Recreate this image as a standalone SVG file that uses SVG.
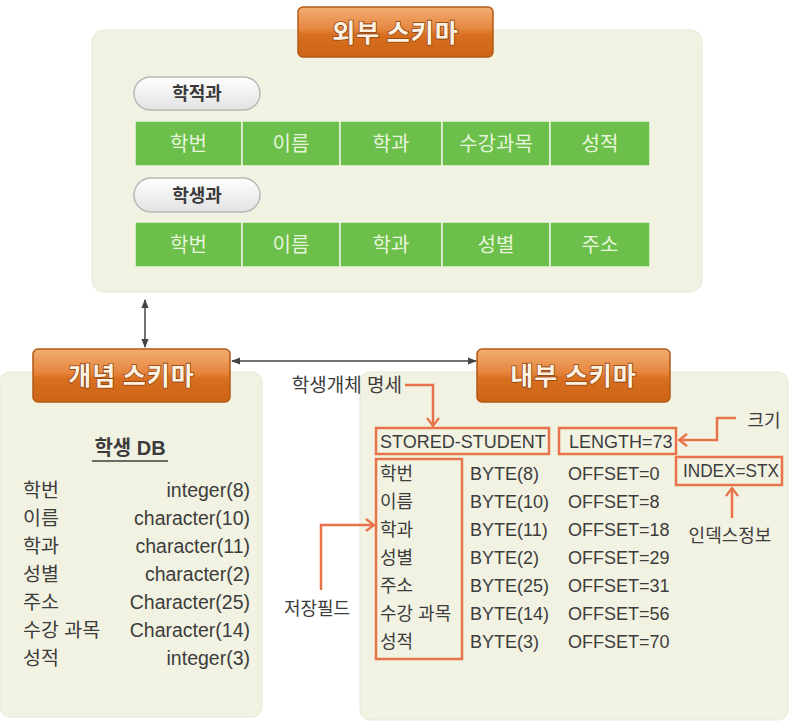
<svg xmlns="http://www.w3.org/2000/svg" width="796" height="725" viewBox="0 0 796 725">
<defs>
  <linearGradient id="og" x1="0" y1="0" x2="0" y2="1">
    <stop offset="0" stop-color="#f2ae72"/>
    <stop offset="0.45" stop-color="#e5853d"/>
    <stop offset="0.55" stop-color="#d96f20"/>
    <stop offset="1" stop-color="#cd6416"/>
  </linearGradient>
  <linearGradient id="pg" x1="0" y1="0" x2="0" y2="1">
    <stop offset="0" stop-color="#ffffff"/>
    <stop offset="1" stop-color="#e2e2e2"/>
  </linearGradient>
  <marker id="ah" viewBox="0 0 10 10" refX="9" refY="5" markerWidth="9" markerHeight="9" markerUnits="userSpaceOnUse" orient="auto-start-reverse">
    <path d="M0,1 L10,5 L0,9 z" fill="#444"/>
  </marker>
  <marker id="oc" viewBox="0 0 12 14" refX="10" refY="7" markerWidth="12" markerHeight="14" markerUnits="userSpaceOnUse" orient="auto">
    <path d="M2,1 L10,7 L2,13" fill="none" stroke="#e8734a" stroke-width="2.2"/>
  </marker>
  <style>
    .panel{fill:#f2f2e2;stroke:#e7e7d6;stroke-width:1}
    .btn{fill:url(#og);stroke:#b35a16;stroke-width:1.5}
    .btxt{font-family:"Noto Sans CJK KR",sans-serif;font-weight:bold;font-size:25px;fill:#fdf1e2;text-anchor:middle;stroke:#8e4410;stroke-width:1.6;paint-order:stroke;letter-spacing:1px}
    .pill{fill:url(#pg);stroke:#b8b8b8;stroke-width:1.5}
    .ptxt{font-family:"Noto Sans CJK KR",sans-serif;font-weight:bold;font-size:18px;fill:#3a3a3a;text-anchor:middle}
    .cell{fill:#6bbf4a;stroke:#eef5e4;stroke-width:1.5}
    .ctxt{font-family:"Noto Sans CJK KR",sans-serif;font-size:20px;fill:#e8f5dc;text-anchor:middle}
    .t{font-family:"Liberation Sans","Noto Sans CJK KR",sans-serif;font-size:18px;fill:#3c3c3c}
    .tl{font-family:"Liberation Sans","Noto Sans CJK KR",sans-serif;font-size:19.5px;fill:#3c3c3c}
    .r{text-anchor:end}
    .m{text-anchor:middle}
    .ob{fill:none;stroke:#e8734a;stroke-width:2.5}
    .con{fill:none;stroke:#444;stroke-width:1.5}
    .ocon{fill:none;stroke:#e8734a;stroke-width:2.5}
  </style>
</defs>
<rect width="796" height="725" fill="#ffffff"/>

<g id="external-schema">
  <rect class="panel" x="92" y="30" width="610" height="262" rx="12"/>
  <rect class="btn" x="298" y="7" width="195" height="50" rx="5"/>
  <text class="btxt" x="395.5" y="42">외부 스키마</text>
  <g id="view-hakjeokgwa">
    <rect class="pill" x="134" y="77" width="126" height="33" rx="16.5"/>
    <text class="ptxt" x="197" y="100">학적과</text>
    <rect class="cell" x="135" y="121" width="107" height="45"/>
    <rect class="cell" x="242" y="121" width="98" height="45"/>
    <rect class="cell" x="340" y="121" width="102" height="45"/>
    <rect class="cell" x="442" y="121" width="108" height="45"/>
    <rect class="cell" x="550" y="121" width="100" height="45"/>
    <text class="ctxt" x="188.5" y="151">학번</text>
    <text class="ctxt" x="291" y="151">이름</text>
    <text class="ctxt" x="391" y="151">학과</text>
    <text class="ctxt" x="496" y="151">수강과목</text>
    <text class="ctxt" x="600" y="151">성적</text>
  </g>
  <g id="view-haksaenggwa">
    <rect class="pill" x="134" y="178" width="126" height="34" rx="17"/>
    <text class="ptxt" x="197" y="202">학생과</text>
    <rect class="cell" x="135" y="222" width="107" height="45"/>
    <rect class="cell" x="242" y="222" width="98" height="45"/>
    <rect class="cell" x="340" y="222" width="102" height="45"/>
    <rect class="cell" x="442" y="222" width="108" height="45"/>
    <rect class="cell" x="550" y="222" width="100" height="45"/>
    <text class="ctxt" x="188.5" y="252">학번</text>
    <text class="ctxt" x="291" y="252">이름</text>
    <text class="ctxt" x="391" y="252">학과</text>
    <text class="ctxt" x="496" y="252">성별</text>
    <text class="ctxt" x="600" y="252">주소</text>
  </g>
</g>

<g id="conceptual-schema">
  <rect class="panel" x="0" y="372" width="262" height="345" rx="10"/>
  <rect class="btn" x="33" y="349" width="197" height="53" rx="5"/>
  <text class="btxt" x="131.5" y="385">개념 스키마</text>
  <text class="tl m" x="130" y="455" style="font-size:20px;font-weight:bold">학생 DB</text>
  <line x1="92" y1="461" x2="168" y2="461" stroke="#3c3c3c" stroke-width="1.5"/>
  <text class="tl" x="23" y="497">학번</text>
  <text class="tl" x="23" y="525">이름</text>
  <text class="tl" x="23" y="553">학과</text>
  <text class="tl" x="23" y="581">성별</text>
  <text class="tl" x="23" y="609">주소</text>
  <text class="tl" x="23" y="637">수강 과목</text>
  <text class="tl" x="23" y="665">성적</text>
  <text class="tl r" x="250" y="497">integer(8)</text>
  <text class="tl r" x="250" y="525">character(10)</text>
  <text class="tl r" x="250" y="553">character(11)</text>
  <text class="tl r" x="250" y="581">character(2)</text>
  <text class="tl r" x="250" y="609">Character(25)</text>
  <text class="tl r" x="250" y="637">Character(14)</text>
  <text class="tl r" x="250" y="665">integer(3)</text>
</g>

<g id="internal-schema">
  <rect class="panel" x="360" y="372" width="428" height="348" rx="10"/>
  <rect class="btn" x="477" y="349" width="193" height="53" rx="5"/>
  <text class="btxt" x="573.5" y="385">내부 스키마</text>
  <rect class="ob" x="376" y="428" width="173" height="26"/>
  <rect class="ob" x="559" y="428" width="117" height="26"/>
  <rect class="ob" x="676" y="457" width="106" height="28"/>
  <rect class="ob" x="376" y="459" width="86" height="200"/>
  <text class="t" x="380" y="448">STORED-STUDENT</text>
  <text class="t" x="569" y="448">LENGTH=73</text>
  <text class="t" x="683" y="477" textLength="96" lengthAdjust="spacingAndGlyphs">INDEX=STX</text>
  <text class="t" x="380" y="480">학번</text>
  <text class="t" x="380" y="508">이름</text>
  <text class="t" x="380" y="536">학과</text>
  <text class="t" x="380" y="564">성별</text>
  <text class="t" x="380" y="592">주소</text>
  <text class="t" x="380" y="620">수강 과목</text>
  <text class="t" x="380" y="648">성적</text>
  <text class="t" x="470" y="480">BYTE(8)</text>
  <text class="t" x="470" y="508">BYTE(10)</text>
  <text class="t" x="470" y="536">BYTE(11)</text>
  <text class="t" x="470" y="564">BYTE(2)</text>
  <text class="t" x="470" y="592">BYTE(25)</text>
  <text class="t" x="470" y="620">BYTE(14)</text>
  <text class="t" x="470" y="648">BYTE(3)</text>
  <text class="t" x="568" y="480">OFFSET=0</text>
  <text class="t" x="568" y="508">OFFSET=8</text>
  <text class="t" x="568" y="536">OFFSET=18</text>
  <text class="t" x="568" y="564">OFFSET=29</text>
  <text class="t" x="568" y="592">OFFSET=31</text>
  <text class="t" x="568" y="620">OFFSET=56</text>
  <text class="t" x="568" y="648">OFFSET=70</text>
</g>

<g id="annotations">
  <text class="t r" x="402" y="392" style="font-size:19px">학생개체 명세</text>
  <text class="t m" x="317" y="615">저장필드</text>
  <text class="t m" x="764" y="427">크기</text>
  <text class="t m" x="730" y="542">인덱스정보</text>
</g>

<g id="connectors">
  <line class="con" x1="145" y1="300" x2="145" y2="347" marker-start="url(#ah)" marker-end="url(#ah)"/>
  <line class="con" x1="232" y1="361" x2="476" y2="361" marker-start="url(#ah)" marker-end="url(#ah)"/>
  <polyline class="ocon" points="405,385 433,385 433,426" marker-end="url(#oc)"/>
  <polyline class="ocon" points="736,418 717,418 717,440 679,440" marker-end="url(#oc)"/>
  <polyline class="ocon" points="732,518 732,488" marker-end="url(#oc)"/>
  <polyline class="ocon" points="321,590 321,525 374,525" marker-end="url(#oc)"/>
</g>
</svg>
